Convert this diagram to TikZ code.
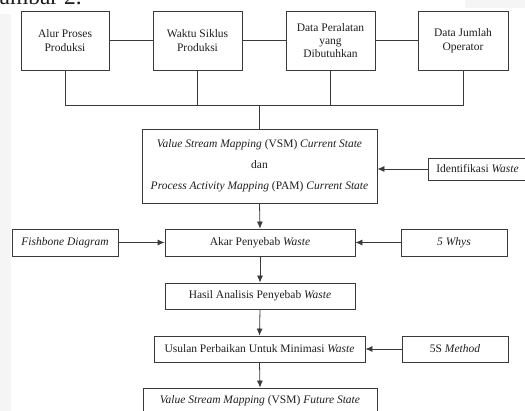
\documentclass[tikz,border=0pt]{standalone}
\usepackage{fontspec}
\setmainfont{Liberation Serif}
\usetikzlibrary{arrows.meta}
\definecolor{linec}{HTML}{3A3A3A}
\definecolor{textc}{HTML}{1E1E1E}
\begin{document}
\begin{tikzpicture}[x=1pt,y=-1pt,
  box/.style={draw=linec, line width=0.8pt, inner sep=0pt, align=center, text=textc,
    font=\fontsize{11.5}{13.5}\selectfont},
  conn/.style={draw=linec, line width=0.8pt},
  arr/.style={conn, -{Latex[length=7pt,width=6pt]}},
]
\useasboundingbox (0,0) rectangle (525,411);
\clip (0,0) rectangle (525,411);
\fill[black!4] (0,14) rectangle (11,411);
\fill[black!4] (465,0) rectangle (525,8);
\node[anchor=base east, inner sep=0pt, text=textc, font=\fontsize{23.5}{24}\selectfont] (gbr) at (82,5) {Gambar 2.};

% top row
\node[box, minimum width=88pt, minimum height=59pt] (b1) at (65,40.5) {Alur Proses\\Produksi};
\node[box, minimum width=89pt, minimum height=59pt] (b2) at (197.5,40.5) {Waktu Siklus\\Produksi};
\node[box, minimum width=89pt, minimum height=59pt, font=\fontsize{11.5}{13}\selectfont] (b3) at (330.5,40.5) {Data Peralatan\\yang\\Dibutuhkan};
\node[box, minimum width=90pt, minimum height=59pt] (b4) at (463,40.5) {Data Jumlah\\Operator};

% VSM current
\node[box, minimum width=235pt, minimum height=74pt, font=\fontsize{11.5}{21}\selectfont] (vsm) at (259.5,166)
  {\textit{Value Stream Mapping} (VSM) \textit{Current State}\\dan\\\textit{Process Activity Mapping} (PAM) \textit{Current State}};
\node[box, minimum width=99pt, minimum height=22pt] (ident) at (477.5,169) {Identifikasi \textit{Waste}};

% middle
\node[box, minimum width=190pt, minimum height=27pt] (akar) at (260,242.5) {Akar Penyebab \textit{Waste}};
\node[box, minimum width=106pt, minimum height=27pt] (fish) at (65,242.5) {\textit{Fishbone Diagram}};
\node[box, minimum width=106pt, minimum height=27pt] (why) at (454,242.5) {\textit{5 Whys}};
\node[box, minimum width=190pt, minimum height=26pt] (hasil) at (260,296) {Hasil Analisis Penyebab \textit{Waste}};
\node[box, minimum width=211pt, minimum height=26pt] (usul) at (259.5,349) {Usulan Perbaikan Untuk Minimasi \textit{Waste}};
\node[box, minimum width=106pt, minimum height=26pt] (s5) at (455,349) {5S \textit{Method}};
\node[box, minimum width=234pt, minimum height=26pt] (fut) at (260,401) {\textit{Value Stream Mapping} (VSM) \textit{Future State}};

% connectors top
\draw[conn] (b1) -- (b2);
\draw[conn] (b2) -- (b3);
\draw[conn] (b3) -- (b4);
\coordinate (bus) at (259.5,105);
\draw[conn] (b1.south) |- (bus);
\draw[conn] (b4.south) |- (bus);
\draw[conn] (b2.south) -- (b2.south |- bus);
\draw[conn] (b3.south) -- (b3.south |- bus);
\draw[conn] (bus) -- (vsm.north);

% arrows
\draw[arr] (ident.west) -- (ident.west -| vsm.east);
\draw[arr] (vsm.south) -- (akar.north);
\draw[arr] (fish.east) -- (akar.west);
\draw[arr] (why.west) -- (akar.east);
\draw[arr] (akar.south) -- (hasil.north);
\draw[arr] (hasil.south) -- (usul.north);
\draw[arr] (s5.west) -- (usul.east);
\draw[arr] (usul.south) -- (fut.north);
\end{tikzpicture}
\end{document}
